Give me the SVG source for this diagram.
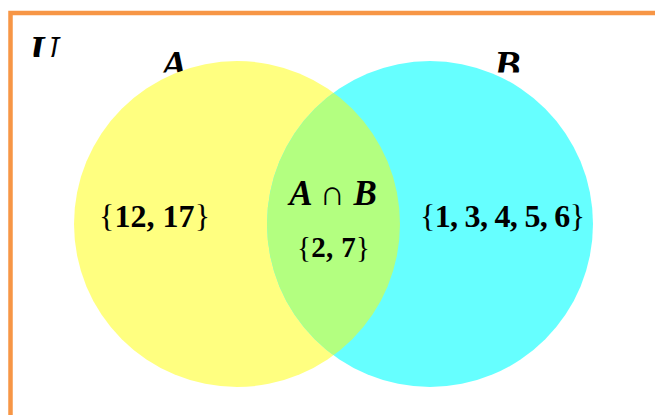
<svg xmlns="http://www.w3.org/2000/svg" width="655" height="415" viewBox="0 0 655 415">
  <style>
    .lbl { font-family: "Liberation Serif", "DejaVu Serif", serif; font-weight: bold; font-style: italic; font-size: 40px; fill: #000; }
    .set { font-family: "Liberation Serif", "DejaVu Serif", serif; font-weight: bold; fill: #000; }
    .br { font-weight: normal; }
  </style>
  <defs>
    <clipPath id="clipU"><rect x="0" y="0" width="120" height="57"/></clipPath>
    <clipPath id="clipAB"><rect x="0" y="0" width="655" height="72.5"/></clipPath>
    <clipPath id="clipYellow"><circle cx="237" cy="224" r="163"/></clipPath>
  </defs>
  <rect width="655" height="415" fill="#FFFFFF"/>
  <rect id="universe" x="10.5" y="13" width="700" height="500" fill="none" stroke="#F79646" stroke-width="4.5"/>
  <g id="label-U"><text class="lbl" x="30" y="63" clip-path="url(#clipU)">U</text></g>
  <g id="label-A"><text class="lbl" x="161" y="78" clip-path="url(#clipAB)">A</text></g>
  <g id="label-B"><text class="lbl" x="494" y="78" clip-path="url(#clipAB)">B</text></g>
  <g id="set-A"><circle cx="237" cy="224" r="163" fill="#FFFF80"/></g>
  <g id="set-B"><circle cx="430" cy="224" r="163" fill="#66FFFF"/></g>
  <g id="intersection"><circle cx="430" cy="224" r="163" fill="#B3FF80" clip-path="url(#clipYellow)"/></g>
  <g id="texts">
    <text class="set" x="154.5" y="227" font-size="32" text-anchor="middle" textLength="111" lengthAdjust="spacing"><tspan class="br">{</tspan>12, 17<tspan class="br">}</tspan></text>
    <text class="set" x="502.5" y="227" font-size="32" text-anchor="middle" textLength="165" lengthAdjust="spacing"><tspan class="br">{</tspan>1, 3, 4, 5, 6<tspan class="br">}</tspan></text>
    <text class="set" x="333.5" y="257" font-size="29" text-anchor="middle" textLength="73" lengthAdjust="spacing"><tspan class="br">{</tspan>2, 7<tspan class="br">}</tspan></text>
    <text class="set" x="333" y="205" font-size="35" font-style="italic" text-anchor="middle">A <tspan font-style="normal" font-weight="normal">∩</tspan> B</text>
  </g>
</svg>
